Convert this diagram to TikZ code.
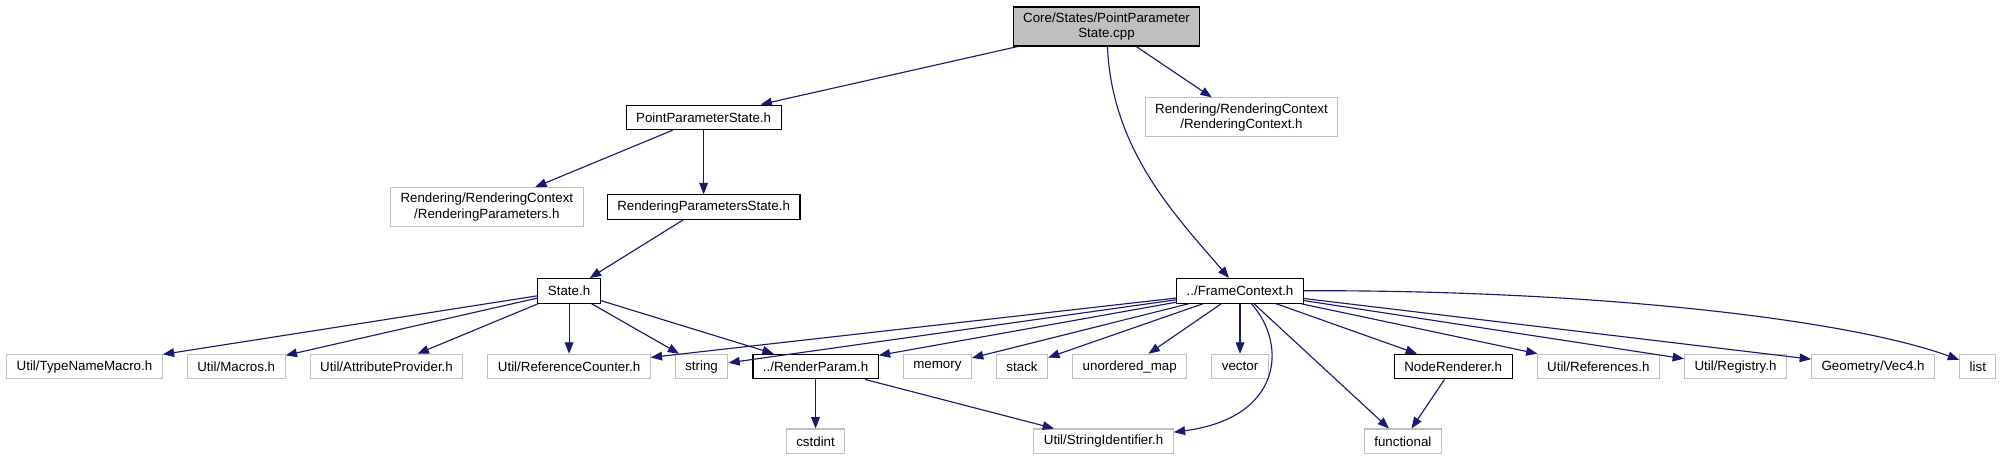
\documentclass[tikz,border=0pt]{standalone}
\usepackage{fontspec}
\setmainfont{Liberation Sans}
\usetikzlibrary{positioning, arrows.meta}
\definecolor{edgeblue}{RGB}{25,25,112}
\definecolor{extgray}{RGB}{191,191,191}

\begin{document}
\begin{tikzpicture}[
    x=0.75pt, y=-0.75pt,
    font=\fontsize{10}{11.5}\selectfont,
    base/.style={rectangle, draw=black, line width=0.8pt, align=center, inner xsep=7.5pt, inner ysep=2pt, minimum height=18.5pt, fill=white},
    ext/.style={base, draw=extgray},
    twoline/.style={minimum height=29.25pt},
    arrow/.style={-{Triangle[length=8.5pt, width=6.5pt]}, draw=edgeblue, line width=0.85pt}
]
\useasboundingbox (0,0) rectangle (2009,459);

% Quelldatei
\node[base, twoline, fill=extgray] (cpp) at (1106.5,26.5) {Core/States/PointParameter\\State.cpp};

% Ebene 1
\node[base, below left=43.5pt and 173.25pt of cpp] (pps) {PointParameterState.h};
\node[ext, twoline, right=272.25pt of pps] (rctx) {Rendering/RenderingContext\\/RenderingContext.h};

% Ebene 2
\node[base, below=48pt of pps] (rpstate) {RenderingParametersState.h};
\node[ext, twoline, left=17.25pt of rpstate] (rparams) {Rendering/RenderingContext\\/RenderingParameters.h};

% Ebene 3
\node[base, below left=43.5pt and 4.5pt of rpstate] (state) {State.h};

% Untere Reihe
\node[ext, below=37.5pt of state] (refcnt) {Util/ReferenceCounter.h};
\node[ext, left=18pt of refcnt] (attrp) {Util/AttributeProvider.h};
\node[ext, left=18pt of attrp] (macros) {Util/Macros.h};
\node[ext, left=18pt of macros] (tnm) {Util/TypeNameMacro.h};
\node[ext, right=18pt of refcnt] (str) {string};
\node[base, right=18pt of str] (rparam) {../RenderParam.h};
\node[ext, right=18pt of rparam] (mem) {memory};
\node[ext, right=18pt of mem] (stk) {stack};
\node[ext, right=18pt of stk] (umap) {unordered\_map};
\node[ext, right=18pt of umap] (vec) {vector};
\node[base, right=93.75pt of vec] (nrend) {NodeRenderer.h};
\node[ext, right=18pt of nrend] (refs) {Util/References.h};
\node[ext, right=18pt of refs] (reg) {Util/Registry.h};
\node[ext, right=18pt of reg] (vec4) {Geometry/Vec4.h};
\node[ext, right=18pt of vec4] (lst) {list};

\node[base, above=37.5pt of vec] (frame) {../FrameContext.h};

% Letzte Reihe
\node[ext, below=36.75pt of rparam] (cstd) {cstdint};
\node[ext, right=141pt of cstd] (strid) {Util/StringIdentifier.h};
\node[ext, right=142.5pt of strid] (func) {functional};

% Pfeile
\draw[arrow] (cpp) -- (pps);
\draw[arrow] (cpp) -- (rctx);
\draw[arrow] (cpp) .. controls (1112,150) and (1175,215) .. (frame);
\draw[arrow] (pps) -- (rparams);
\draw[arrow] (pps) -- (rpstate);
\draw[arrow] (rpstate) -- (state);
\draw[arrow] (state) -- (tnm);
\draw[arrow] (state) -- (macros);
\draw[arrow] (state) -- (attrp);
\draw[arrow] (state) -- (refcnt);
\draw[arrow] (state) -- (str);
\draw[arrow] (state) -- (rparam);
\draw[arrow] (frame) -- (refcnt);
\draw[arrow] (frame) -- (str);
\draw[arrow] (frame) -- (rparam);
\draw[arrow] (frame) -- (mem);
\draw[arrow] (frame) -- (stk);
\draw[arrow] (frame) -- (umap);
\draw[arrow] (frame) -- (vec);
\draw[arrow] (frame) .. controls (1288,345) and (1282,418) .. (strid);
\draw[arrow] (frame) -- (func);
\draw[arrow] (frame) -- (nrend);
\draw[arrow] (frame) -- (refs);
\draw[arrow] (frame) -- (reg);
\draw[arrow] (frame) -- (vec4);
\draw[arrow] (frame) .. controls (1600,290) and (1850,320) .. (lst);
\draw[arrow] (rparam) -- (cstd);
\draw[arrow] (rparam) -- (strid);
\draw[arrow] (nrend) -- (func);

\end{tikzpicture}
\end{document}
